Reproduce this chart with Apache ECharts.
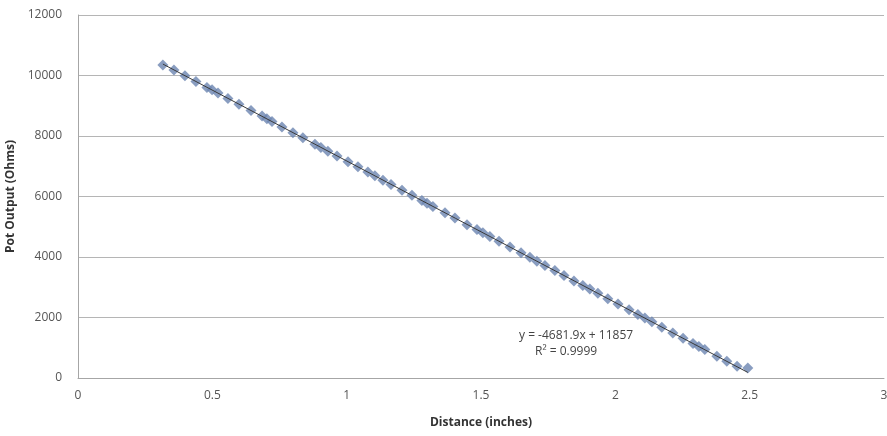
<!DOCTYPE html>
<html>
<head>
<meta charset="utf-8">
<script src="https://cdn.jsdelivr.net/npm/echarts@6/dist/echarts.min.js"></script>
<style>
html,body{margin:0;padding:0;background:#fff;}
#chart{width:887px;height:436px;}
</style>
</head>
<body>
<div id="chart"></div>
<script>
// Distance (inches)
var distance = [0.316,0.357,0.398,0.439,0.480,0.499,0.521,0.558,0.599,0.644,0.685,0.703,0.722,0.759,0.800,0.837,0.882,0.904,0.930,0.964,1.005,1.042,1.079,1.105,1.135,1.165,1.206,1.243,1.280,1.299,1.321,1.366,1.403,1.448,1.485,1.507,1.533,1.567,1.608,1.649,1.682,1.708,1.738,1.775,1.809,1.846,1.879,1.905,1.935,1.972,2.010,2.051,2.084,2.110,2.136,2.173,2.214,2.252,2.289,2.311,2.333,2.378,2.415,2.453,2.493];
// Pot Output (Ohms)
var potOutput = [10350,10180,9990,9800,9600,9530,9420,9240,9050,8840,8660,8570,8480,8300,8110,7940,7730,7620,7500,7340,7150,6980,6810,6690,6540,6400,6210,6040,5870,5780,5670,5460,5290,5070,4910,4800,4680,4520,4330,4140,3990,3860,3720,3550,3390,3210,3060,2940,2800,2620,2450,2260,2100,1980,1860,1680,1490,1310,1140,1040,940,720,550,390,330];
// Linear trendline endpoints (y = -4681.9x + 11857)
var trendX = [0.316, 2.493];
var trendY = [10378, 185];
var equationText = 'y = -4681.9x + 11857';
var r2Text = 'R² = 0.9999';

var pts = distance.map(function(d,i){return [d, potOutput[i]];});
var trend = trendX.map(function(d,i){return [d, trendY[i]];});

var chart = echarts.init(document.getElementById('chart'));
var labelFont = {color:'#555', fontSize:12, fontFamily:'Open Sans'};
chart.setOption({
  animation:false,
  backgroundColor:'#fff',
  grid:{left:78, right:3, top:15, bottom:58, containLabel:false, outerBoundsMode:'none'},
  xAxis:{
    type:'value', min:0, max:3, interval:0.5,
    name:'Distance (inches)', nameLocation:'middle', nameGap:39,
    nameTextStyle:{color:'#333', fontSize:12, fontWeight:'bold', fontFamily:'Open Sans'},
    axisLine:{show:true, lineStyle:{color:'#a6a6a6', width:1}},
    axisTick:{show:false},
    splitLine:{show:false},
    axisLabel:Object.assign({margin:12, formatter:function(v){return String(v);}}, labelFont)
  },
  yAxis:{
    type:'value', min:0, max:12000, interval:2000,
    name:'Pot Output (Ohms)', nameLocation:'middle', nameGap:59,
    nameTextStyle:{color:'#333', fontSize:12, fontWeight:'bold', fontFamily:'Open Sans'},
    axisLine:{show:true, lineStyle:{color:'#a6a6a6', width:1}},
    axisTick:{show:false},
    splitLine:{show:true, lineStyle:{color:'#b5b5b5', width:1}},
    axisLabel:Object.assign({margin:16, formatter:function(v){return String(v);}}, labelFont)
  },
  series:[
    {
      type:'scatter', data:pts, symbol:'diamond', symbolSize:11,
      itemStyle:{color:'#6b85b0'}, z:2
    },
    {
      type:'line', data:trend, symbol:'none',
      lineStyle:{color:'#3a3a3a', width:1}, z:3
    }
  ],
  graphic:[
    {type:'text', left:519, top:330, style:{text:equationText, fill:'#444', fontSize:12, fontFamily:'Open Sans'}},
    {type:'text', left:535, top:346, style:{text:r2Text, fill:'#444', fontSize:12, fontFamily:'Open Sans'}}
  ]
});
</script>
</body>
</html>
